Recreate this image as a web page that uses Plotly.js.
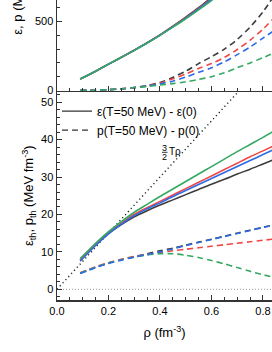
<!DOCTYPE html>
<html>
<head>
<meta charset="utf-8">
<script src="https://cdn.plot.ly/plotly-3.0.1.min.js"></script>
<style>html,body{margin:0;padding:0;background:#fff;}#chart{width:272px;height:352px;}</style>
</head>
<body>
<div id="chart"></div>
<script>
// density grid (fm^-3)
const rho = [0.09, 0.15, 0.2, 0.25, 0.3, 0.35, 0.4, 0.45, 0.5, 0.55, 0.6, 0.65, 0.7, 0.75, 0.8, 0.84];

// top panel: energy density eps(T=50) and pressure p(T=50), MeV fm^-3
const epsTopBlack = [83, 140, 191, 241, 292, 346, 403, 466, 532, 600, 675, 750, 828, 908, 990, 1060];
const epsTopRed   = [83, 140, 191, 241, 292, 345, 402, 463, 528, 595, 667, 740, 816, 895, 975, 1040];
const epsTopBlue  = [83, 140, 190, 240, 291, 344, 401, 461, 525, 592, 662, 735, 810, 888, 967, 1030];
const epsTopGreen = [83, 140, 191, 241, 291, 344, 400, 459, 520, 585, 652, 722, 795, 870, 948, 1010];

const pTopBlack = [0.5, 2, 6, 12, 22, 36, 58, 95, 140, 195, 245, 300, 370, 460, 570, 680];
const pTopRed   = [0.5, 2, 6, 12, 21, 34, 54, 85, 120, 160, 195, 240, 297, 365, 445, 520];
const pTopBlue  = [0.5, 2, 6, 12, 21, 33, 48, 67, 97, 132, 165, 208, 260, 315, 380, 430];
const pTopGreen = [0.5, 2, 6, 11, 20, 29, 40, 50, 63, 80, 100, 128, 165, 200, 238, 270];

// bottom panel: thermal parts eps_th and p_th, MeV fm^-3
const epsThBlack = [7.8, 11.9, 14.9, 17.3, 19.4, 21.0, 22.5, 23.9, 25.3, 26.7, 28.1, 29.4, 30.8, 32.1, 33.5, 34.6];
const epsThRed   = [7.9, 12.0, 15.1, 17.7, 20.0, 21.8, 23.5, 25.2, 26.9, 28.6, 30.3, 32.0, 33.7, 35.4, 37.0, 38.3];
const epsThBlue  = [7.5, 11.7, 14.8, 17.4, 19.7, 21.5, 23.1, 24.8, 26.4, 28.0, 29.6, 31.2, 32.8, 34.4, 36.0, 37.3];
const epsThGreen = [8.2, 12.3, 15.4, 18.1, 20.6, 22.7, 24.8, 26.8, 28.8, 30.8, 32.8, 34.8, 36.8, 38.7, 40.6, 42.2];

const pThBlack = [4.3, 5.9, 7.0, 7.9, 8.7, 9.5, 10.3, 11.0, 11.8, 12.6, 13.4, 14.2, 15.0, 15.8, 16.6, 17.2];
const pThRed   = [4.4, 6.0, 7.1, 8.0, 8.8, 9.3, 9.8, 10.3, 10.7, 11.1, 11.5, 11.9, 12.3, 12.7, 13.1, 13.4];
const pThBlue  = [4.2, 5.8, 6.9, 7.8, 8.6, 9.3, 10.0, 10.8, 11.7, 12.5, 13.3, 14.1, 14.9, 15.7, 16.5, 17.1];
const pThGreen = [4.3, 5.9, 7.0, 7.9, 8.6, 9.2, 9.5, 9.5, 9.1, 8.5, 7.7, 6.8, 5.8, 4.8, 3.9, 3.2];

// reference line 3/2 T rho and zero line
const rhoRef = [0, 0.72];
const tRho = [0, 54];
const rhoZero = [0, 0.84];
const zero = [0, 0];

const legendLabels = ['\u03b5(T=50 MeV) - \u03b5(0)', 'p(T=50 MeV) - p(0)'];

const C = {black: '#3d3d3d', red: '#f04646', blue: '#2b6be6', green: '#35a862'};
const DASH = '6px,4px';
const W = 1.6;

function tr(x, y, color, dash, xa, ya) {
  return {x: x, y: y, xaxis: xa, yaxis: ya, type: 'scatter', mode: 'lines',
    line: {color: color, width: W, dash: dash, shape: 'spline', smoothing: 0.8}, showlegend: false, hoverinfo: 'skip'};
}

const data = [
  // top panel
  tr(rho, pTopBlack, C.black, DASH, 'x2', 'y2'),
  tr(rho, pTopRed, C.red, DASH, 'x2', 'y2'),
  tr(rho, pTopBlue, C.blue, DASH, 'x2', 'y2'),
  tr(rho, pTopGreen, C.green, DASH, 'x2', 'y2'),
  tr(rho, epsTopBlack, C.black, 'solid', 'x2', 'y2'),
  tr(rho, epsTopRed, C.red, 'solid', 'x2', 'y2'),
  tr(rho, epsTopBlue, C.blue, 'solid', 'x2', 'y2'),
  tr(rho, epsTopGreen, C.green, 'solid', 'x2', 'y2'),
  // bottom panel
  {x: rhoZero, y: zero, xaxis: 'x', yaxis: 'y', mode: 'lines', line: {color: '#999', width: 1, dash: '1px,2px'}, showlegend: false, hoverinfo: 'skip'},
  {x: rhoRef, y: tRho, xaxis: 'x', yaxis: 'y', mode: 'lines', line: {color: '#222', width: 1.4, dash: '1.2px,3px'}, showlegend: false, hoverinfo: 'skip'},
  tr(rho, pThBlack, C.black, DASH, 'x', 'y'),
  tr(rho, pThRed, C.red, DASH, 'x', 'y'),
  tr(rho, pThGreen, C.green, DASH, 'x', 'y'),
  tr(rho, pThBlue, C.blue, DASH, 'x', 'y'),
  tr(rho, epsThBlack, C.black, 'solid', 'x', 'y'),
  tr(rho, epsThRed, C.red, 'solid', 'x', 'y'),
  tr(rho, epsThBlue, C.blue, 'solid', 'x', 'y'),
  tr(rho, epsThGreen, C.green, 'solid', 'x', 'y'),
  // legend entries
  {x: [null], y: [null], xaxis: 'x', yaxis: 'y', mode: 'lines', name: legendLabels[0], line: {color: '#333', width: 1.4}},
  {x: [null], y: [null], xaxis: 'x', yaxis: 'y', mode: 'lines', name: legendLabels[1], line: {color: '#333', width: 1.4, dash: DASH}}
];

const FONT = 'Liberation Sans, Arial, sans-serif';
const axLine = {showline: true, linecolor: '#333', linewidth: 1.5, ticks: 'inside', tickcolor: '#333',
  tickwidth: 1, ticklen: 5, showgrid: false, zeroline: false, tickfont: {family: FONT, size: 11, color: '#000'}};
const split = 0.6967;

const layout = {
  width: 272, height: 352,
  margin: {l: 57, r: 0, t: 0, b: 52},
  paper_bgcolor: '#fff', plot_bgcolor: '#fff',
  font: {family: FONT, color: '#000'},
  showlegend: true,
  legend: {x: 0.0, y: 0.678, xanchor: 'left', yanchor: 'top', bgcolor: 'rgba(0,0,0,0)',
    font: {family: FONT, size: 12, color: '#000'}, itemwidth: 30, tracegroupgap: 0},
  xaxis: Object.assign({}, axLine, {domain: [0, 1], range: [0, 0.835], anchor: 'y', dtick: 0.2, tick0: 0,
    tickformat: '.1f', minor: {dtick: 0.05, ticklen: 3, ticks: 'inside', tickcolor: '#333'},
    title: {text: '\u03c1 (fm<sup>-3</sup>)', font: {family: FONT, size: 13}, standoff: 12}}),
  xaxis2: Object.assign({}, axLine, {domain: [0, 1], range: [0, 0.835], anchor: 'y2', matches: 'x', dtick: 0.2, tick0: 0,
    showticklabels: false, minor: {dtick: 0.05, ticklen: 3, ticks: 'inside', tickcolor: '#333'}}),
  yaxis: Object.assign({}, axLine, {domain: [0, split], range: [-2.86, 53.0], anchor: 'x', dtick: 10, tick0: 0,
    minor: {dtick: 2, ticklen: 3, ticks: 'inside', tickcolor: '#333'}}),
  yaxis2: Object.assign({}, axLine, {domain: [split, 1], range: [-3.6, 656], anchor: 'x2', dtick: 500, tick0: 0,
    minor: {dtick: 100, ticklen: 3, ticks: 'inside', tickcolor: '#333'}}),
  annotations: [
    {xref: 'paper', yref: 'paper', x: -0.185, y: 0.8767, xanchor: 'center', yanchor: 'bottom', textangle: -90,
      text: '\u03b5, p (MeV fm<sup>-3</sup>)', showarrow: false, font: {family: FONT, size: 13, color: '#000'}},
    {xref: 'paper', yref: 'paper', x: -0.128, y: split / 2, xanchor: 'center', yanchor: 'middle', textangle: -90,
      text: '\u03b5<sub>th</sub>, p<sub>th</sub> (MeV fm<sup>-3</sup>)', showarrow: false, font: {family: FONT, size: 13, color: '#000'}},
    {xref: 'paper', yref: 'paper', x: (164.7 - 57) / 215, y: (300 - 148) / 300, xanchor: 'center', yanchor: 'middle',
      text: '3', showarrow: false, font: {family: FONT, size: 9, color: '#000'}},
    {xref: 'paper', yref: 'paper', x: (164.7 - 57) / 215, y: (300 - 156.5) / 300, xanchor: 'center', yanchor: 'middle',
      text: '2', showarrow: false, font: {family: FONT, size: 9, color: '#000'}},
    {xref: 'paper', yref: 'paper', x: (167 - 57) / 215, y: (300 - 152) / 300, xanchor: 'left', yanchor: 'middle',
      text: 'T\u03c1', showarrow: false, font: {family: FONT, size: 10, color: '#000'}}
  ],
  shapes: [
    {type: 'line', xref: 'paper', yref: 'paper', x0: (162 - 57) / 215, x1: (167.5 - 57) / 215,
      y0: (300 - 152.3) / 300, y1: (300 - 152.3) / 300, line: {color: '#000', width: 0.8}}
  ]
};

Plotly.newPlot('chart', data, layout, {staticPlot: true, displayModeBar: false});
</script>
</body>
</html>
